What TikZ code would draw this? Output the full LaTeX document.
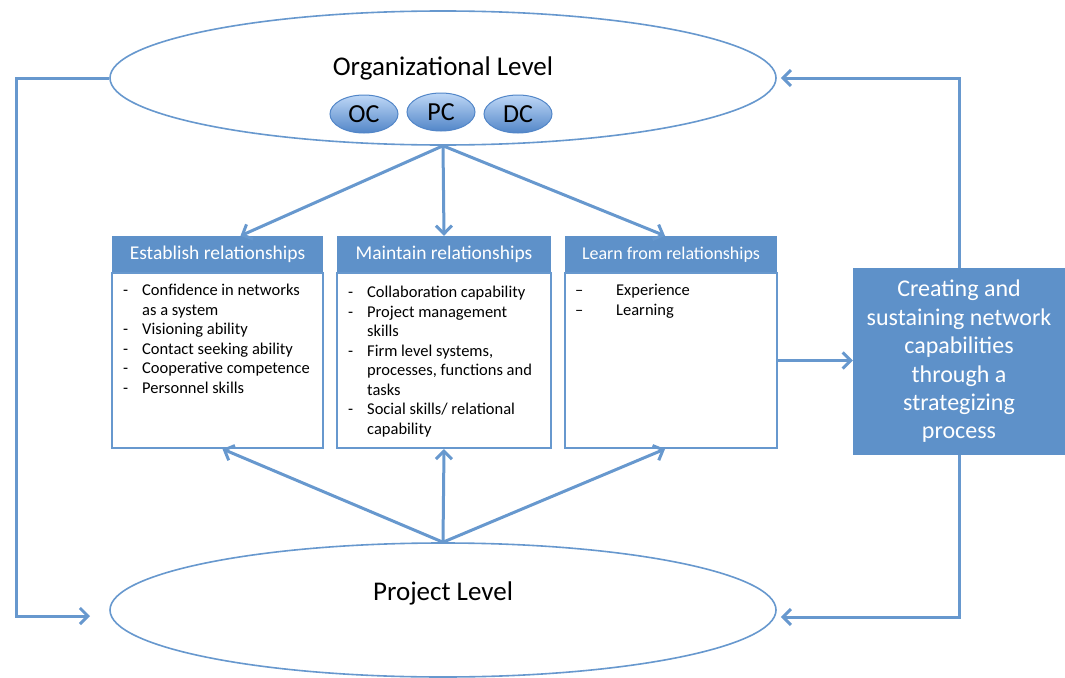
\documentclass[tikz,border=0pt]{standalone}
\usepackage{fontspec}
\setmainfont{Carlito}
\usetikzlibrary{shapes.geometric,arrows.meta,positioning}

\definecolor{lineblue}{RGB}{103,152,206}
\definecolor{boxblue}{RGB}{94,145,201}
\definecolor{capdark}{RGB}{82,134,200}
\definecolor{caplight}{RGB}{190,215,246}

\newcommand{\fs}[2]{\fontsize{#1}{#2}\selectfont}
\newcommand{\itm}[1]{\makebox[19pt][l]{-}#1}
\newcommand{\itmc}[1]{\hspace*{19pt}#1}

\tikzset{
  lvl/.style={ellipse,draw=lineblue,line width=1.6pt,fill=white,
    minimum width=666pt,minimum height=134pt,inner sep=0pt},
  capnode/.style={ellipse,draw=capdark,line width=1pt,top color=caplight,bottom color=capdark,
    minimum width=68pt,minimum height=38pt,inner sep=0pt,font=\fs{26}{28}},
  hdr/.style={fill=boxblue,text=white,minimum height=37pt,inner sep=0pt,font=\fs{19.5}{22}},
  body/.style={draw=lineblue,line width=2pt,fill=white,minimum height=175pt,inner sep=0pt},
  list/.style={anchor=north west,inner sep=0pt,align=left,font=\fs{16.5}{19.5}},
  link/.style={draw=lineblue,line width=3pt,-{Straight Barb[length=8pt,width=16pt]}}
}

\begin{document}
\begin{tikzpicture}[x=1pt,y=-1pt]
	\useasboundingbox (0,0) rectangle (1065,677);

	%levels
	\node[lvl] (org) at (443,78) {};
	\node[lvl] (proj) at (443,610) {};
	\node[font=\fs{27}{30}] (orgtxt) at (443,68) {Organizational Level};
	\node[font=\fs{27}{30}] (projtxt) at (443,593) {Project Level};

	%capabilities
	\node[capnode] (oc) at (364,114) {OC};
	\node[capnode] (pc) at (441,112) {PC};
	\node[capnode] (dc) at (518,114) {DC};

	%relationship boxes
	\node[hdr,minimum width=211pt] (esth) at (217.5,254.5) {Establish relationships};
	\node[body,minimum width=211pt] (estb) at (217.5,360.5) {};
	\node[hdr,minimum width=214pt] (mnth) at (444,254.5) {Maintain relationships};
	\node[body,minimum width=214pt] (mntb) at (444,360.5) {};
	\node[hdr,minimum width=212pt,font=\fs{18}{22}] (lrnh) at (671,254.5) {Learn from relationships};
	\node[body,minimum width=212pt] (lrnb) at (671,360.5) {};

	%lists
	\node[list] (estl) at (123,284) {\itm{Confidence in networks}\\ \itmc{as a system}\\
	  \itm{Visioning ability}\\ \itm{Contact seeking ability}\\
	  \itm{Cooperative competence}\\ \itm{Personnel skills}};
	\node[list] (mntl) at (348,286) {\itm{Collaboration capability}\\ \itm{Project management}\\
	  \itmc{skills}\\ \itm{Firm level systems,}\\ \itmc{processes, functions and}\\
	  \itmc{tasks}\\ \itm{Social skills/ relational}\\ \itmc{capability}};
	\node[list] (lrnl) at (575,284) {\makebox[41pt][l]{--}Experience\\ \makebox[41pt][l]{--}Learning};

	%strategizing box
	\node[fill=boxblue,text=white,minimum width=212pt,minimum height=187pt,inner sep=0pt,
	  align=center,font=\fs{24}{28.4}] (goal) at (959,361.5)
	  {Creating and\\ sustaining network\\ capabilities\\ through a\\ strategizing\\ process};

	%arrows down from organizational level
	\draw[link] (org.south) -- ([xshift=23pt]esth.north);
	\draw[link] (org.south) -- (mnth.north);
	\draw[link] (org.south) -- ([xshift=-6pt]lrnh.north);

	%arrows up from project level
	\draw[link] (proj.north) -- ([xshift=5pt]estb.south);
	\draw[link] (proj.north) -- (mntb.south);
	\draw[link] (proj.north) -- ([xshift=-6pt]lrnb.south);

	%learning feeds the process
	\draw[link] (lrnb.east) -- (lrnb.east -| goal.west);

	%feedback loops
	\coordinate (lin) at (90,616);
	\draw[link] (org.west) -- ++(-93,0) |- (lin);
	\draw[link] (goal.north) |- ([xshift=4pt]org.east);
	\draw[link] (goal.south) |- ([xshift=4pt,yshift=-7pt]proj.east);
\end{tikzpicture}
\end{document}
